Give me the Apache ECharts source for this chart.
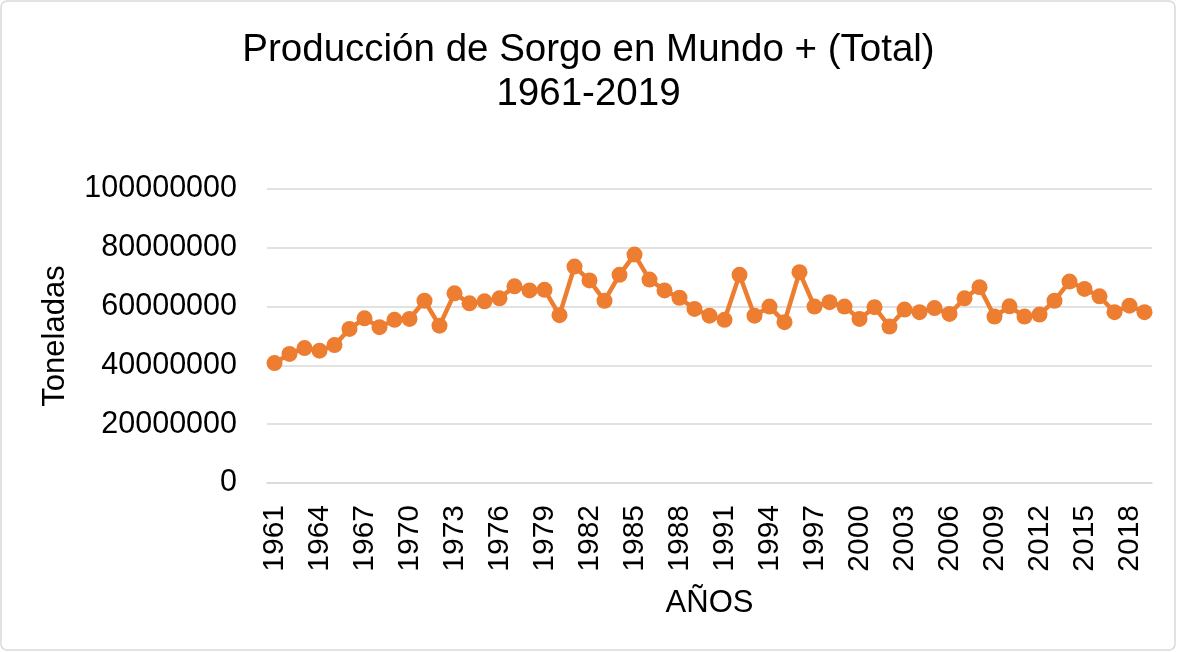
<!DOCTYPE html>
<html>
<head>
<meta charset="utf-8">
<script src="https://cdn.jsdelivr.net/npm/echarts@6/dist/echarts.min.js"></script>
<style>
  html, body { margin: 0; padding: 0; background: #fff; }
  #chart { width: 1177px; height: 652px; }
</style>
</head>
<body>
<div id="chart"></div>
<script>
// años 1961-2019
var years = [];
for (var y = 1961; y <= 2019; y++) years.push(String(y));

// producción (millones de toneladas)
var produccionM = [
  40.8, 43.9, 45.9, 45.0, 46.9, 52.4, 56.0, 53.0, 55.5, 55.8,
  62.0, 53.5, 64.5, 61.1, 61.8, 62.8, 66.9, 65.5, 65.7, 57.1,
  73.6, 68.9, 62.0, 70.8, 77.7, 69.2, 65.5, 63.0, 59.2, 56.9,
  55.5, 70.8, 56.9, 60.0, 54.7, 71.7, 60.0, 61.5, 60.0, 55.8,
  59.8, 53.2, 59.0, 58.1, 59.5, 57.5, 62.8, 66.6, 56.6, 60.1,
  56.6, 57.3, 62.0, 68.5, 66.0, 63.5, 58.1, 60.3, 58.1
];
var produccion = produccionM.map(function(v) { return Math.round(v * 1000000); });

var yTicks = [0, 20000000, 40000000, 60000000, 80000000, 100000000];

var chart = echarts.init(document.getElementById('chart'));
var font = 'Liberation Sans, Arial, sans-serif';

var option = {
  backgroundColor: '#fff',
  animation: false,
  graphic: [{
    type: 'rect',
    shape: { x: 1, y: 1, width: 1174, height: 649, r: 6 },
    style: { fill: 'none', stroke: '#d9d9d9', lineWidth: 1.5 },
    z: -1
  }],
  title: {
    text: 'Producción de Sorgo en Mundo + (Total)\n1961-2019',
    left: 'center',
    top: 23,
    textStyle: {
      fontFamily: font,
      fontSize: 38.5,
      fontWeight: 'normal',
      color: '#000',
      lineHeight: 44
    }
  },
  grid: {
    left: 267,
    right: 25,
    top: 189,
    bottom: 169
  },
  xAxis: {
    type: 'category',
    data: years,
    boundaryGap: true,
    name: 'AÑOS',
    nameLocation: 'middle',
    nameGap: 105,
    nameTextStyle: { fontFamily: font, fontSize: 31, color: '#000' },
    axisLine: { show: true, lineStyle: { color: '#d9d9d9', width: 1.5 } },
    axisTick: { show: false },
    axisLabel: {
      interval: 2,
      rotate: 90,
      margin: 22,
      fontFamily: font,
      fontSize: 30,
      color: '#000'
    }
  },
  yAxis: {
    type: 'value',
    min: yTicks[0],
    max: yTicks[yTicks.length - 1],
    interval: yTicks[1] - yTicks[0],
    name: 'Toneladas',
    nameLocation: 'middle',
    nameGap: 196,
    nameTextStyle: { fontFamily: font, fontSize: 31, color: '#000' },
    axisLine: { show: false },
    axisTick: { show: false },
    splitLine: { lineStyle: { color: '#d9d9d9', width: 1.5 } },
    axisLabel: {
      margin: 30,
      fontFamily: font,
      fontSize: 30.5,
      color: '#000',
      formatter: function(v) { return String(v); }
    }
  },
  series: [{
    name: 'Total',
    type: 'line',
    data: produccion,
    symbol: 'circle',
    symbolSize: 16,
    showAllSymbol: true,
    itemStyle: { color: '#ed7d31' },
    lineStyle: { color: '#ed7d31', width: 4.5 }
  }]
};

chart.setOption(option);
</script>
</body>
</html>
